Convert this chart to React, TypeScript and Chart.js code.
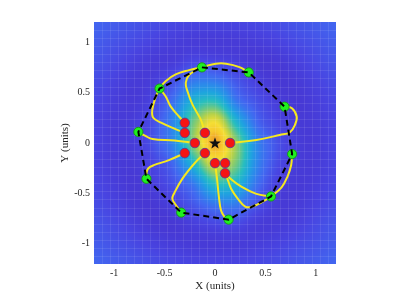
import React, { useEffect, useRef } from 'react';
import { Chart, registerables } from 'chart.js';

Chart.register(...registerables);

// ---- axes ----
const axisMin = -1.2;
const axisMax = 1.2;
const xTicks = [-1, -0.5, 0, 0.5, 1];
const yTicks = [-1, -0.5, 0, 0.5, 1];
const xTitle = 'X (units)';
const yTitle = 'Y (units)';

// ---- background field (0.2 spacing) ----
const fieldX = [-1.2, -1.0, -0.8, -0.6, -0.4, -0.2, 0, 0.2, 0.4, 0.6, 0.8, 1.0, 1.2];
const fieldY = [1.2, 1.0, 0.8, 0.6, 0.4, 0.2, 0, -0.2, -0.4, -0.6, -0.8, -1.0, -1.2];
const fieldValues = [
  [0.10, 0.083, 0.07, 0.055, 0.046, 0.04, 0.04, 0.04, 0.046, 0.055, 0.07, 0.083, 0.10],
  [0.083, 0.065, 0.05, 0.035, 0.026, 0.022, 0.02, 0.02, 0.024, 0.033, 0.05, 0.065, 0.083],
  [0.07, 0.05, 0.03, 0.02, 0.025, 0.05, 0.045, 0.03, 0.015, 0.015, 0.03, 0.05, 0.07],
  [0.055, 0.035, 0.02, 0.028, 0.07, 0.16, 0.16, 0.08, 0.035, 0.015, 0.018, 0.035, 0.055],
  [0.046, 0.026, 0.018, 0.045, 0.14, 0.36, 0.42, 0.16, 0.07, 0.028, 0.015, 0.026, 0.046],
  [0.04, 0.022, 0.025, 0.065, 0.20, 0.55, 0.80, 0.38, 0.12, 0.045, 0.02, 0.022, 0.04],
  [0.04, 0.02, 0.025, 0.07, 0.20, 0.60, 1.0, 0.60, 0.20, 0.07, 0.025, 0.02, 0.04],
  [0.04, 0.022, 0.02, 0.045, 0.12, 0.38, 0.75, 0.55, 0.20, 0.06, 0.025, 0.022, 0.04],
  [0.046, 0.026, 0.015, 0.028, 0.07, 0.16, 0.40, 0.36, 0.14, 0.035, 0.018, 0.026, 0.046],
  [0.055, 0.035, 0.018, 0.015, 0.035, 0.08, 0.15, 0.16, 0.07, 0.022, 0.02, 0.035, 0.055],
  [0.07, 0.05, 0.03, 0.015, 0.015, 0.03, 0.045, 0.05, 0.025, 0.02, 0.03, 0.05, 0.07],
  [0.083, 0.065, 0.05, 0.033, 0.024, 0.02, 0.02, 0.022, 0.026, 0.035, 0.05, 0.065, 0.083],
  [0.10, 0.083, 0.07, 0.055, 0.046, 0.04, 0.04, 0.04, 0.046, 0.055, 0.07, 0.083, 0.10],
];

// ---- start points (red) ----
const redX = [-0.3, -0.3, -0.1, -0.2, 0.15, -0.3, -0.1, 0, 0.1, 0.1];
const redY = [0.2, 0.1, 0.1, 0, 0, -0.1, -0.1, -0.2, -0.2, -0.3];

// ---- end points (green) ----
const greenX = [-0.13, 0.335, -0.55, 0.69, -0.76, 0.765, -0.68, 0.555, -0.335, 0.135];
const greenY = [0.75, 0.70, 0.54, 0.36, 0.11, -0.11, -0.355, -0.53, -0.69, -0.76];
const boundaryOrder = [0, 1, 3, 5, 7, 9, 8, 6, 4, 2, 0];

// ---- centre ----
const centerX = [0];
const centerY = [0];

// ---- trajectories ----
const path1 = [[-0.3, 0.2], [-0.357, 0.263], [-0.44, 0.363], [-0.49, 0.463], [-0.55, 0.54]];
const path2 = [[-0.3, 0.1], [-0.42, 0.15], [-0.53, 0.2], [-0.612, 0.25], [-0.622, 0.33], [-0.59, 0.45], [-0.55, 0.54], [-0.49, 0.613], [-0.39, 0.68], [-0.257, 0.723], [-0.13, 0.753], [0.01, 0.787], [0.11, 0.787], [0.243, 0.753], [0.335, 0.70]];
const path3 = [[-0.1, 0.1], [-0.14, 0.23], [-0.223, 0.38], [-0.273, 0.513], [-0.29, 0.597], [-0.257, 0.675], [-0.19, 0.722], [-0.13, 0.75]];
const path4 = [[-0.2, 0], [-0.4, 0.025], [-0.62, 0.04], [-0.69, 0.07], [-0.76, 0.11]];
const path5 = [[0.15, 0], [0.41, 0.03], [0.643, 0.08], [0.743, 0.107], [0.793, 0.18], [0.81, 0.263], [0.76, 0.347], [0.69, 0.36]];
const path6 = [[-0.3, -0.1], [-0.457, -0.17], [-0.607, -0.22], [-0.663, -0.253], [-0.68, -0.303], [-0.68, -0.355]];
const path7 = [[-0.1, -0.1], [-0.19, -0.187], [-0.323, -0.353], [-0.407, -0.503], [-0.423, -0.553], [-0.397, -0.603], [-0.335, -0.69]];
const path8 = [[0, -0.2], [0.02, -0.353], [0.037, -0.52], [0.06, -0.67], [0.093, -0.73], [0.135, -0.76]];
const path9 = [[0.1, -0.2], [0.108, -0.3], [0.16, -0.36], [0.25, -0.425], [0.41, -0.505], [0.555, -0.53]];
const path10 = [[0.1, -0.3], [0.125, -0.36], [0.16, -0.453], [0.227, -0.553], [0.3, -0.63], [0.365, -0.632], [0.477, -0.58], [0.555, -0.53], [0.66, -0.44], [0.72, -0.33], [0.755, -0.22], [0.765, -0.11]];
const paths = [path1, path2, path3, path4, path5, path6, path7, path8, path9, path10];

// ---- colour map stops ----
const cmapPos = [0, 0.04, 0.1, 0.18, 0.28, 0.4, 0.52, 0.65, 0.8, 0.92, 1.0];
const cmapRGB = [
  [70, 50, 205], [72, 68, 225], [66, 102, 240], [45, 135, 235], [30, 165, 222],
  [40, 190, 190], [110, 200, 130], [185, 210, 72], [245, 222, 52], [246, 200, 46], [238, 160, 42],
];

function colorFor(v: number) {
  const t = Math.max(0, Math.min(1, v));
  for (let i = 1; i < cmapPos.length; i++) {
    if (t <= cmapPos[i]) {
      const f = (t - cmapPos[i - 1]) / (cmapPos[i] - cmapPos[i - 1]);
      const a = cmapRGB[i - 1], b = cmapRGB[i];
      return [a[0] + (b[0] - a[0]) * f, a[1] + (b[1] - a[1]) * f, a[2] + (b[2] - a[2]) * f];
    }
  }
  return cmapRGB[cmapRGB.length - 1];
}

function cubic(p0: number, p1: number, p2: number, p3: number, t: number) {
  return p1 + 0.5 * t * (p2 - p0 + t * (2 * p0 - 5 * p1 + 4 * p2 - p3 + t * (3 * (p1 - p2) + p3 - p0)));
}

function sampleField(gx: number, gy: number) {
  const nx = fieldX.length, ny = fieldY.length;
  const ix = Math.floor(gx), iy = Math.floor(gy);
  const tx = gx - ix, ty = gy - iy;
  const get = (i: number, j: number) =>
    fieldValues[Math.max(0, Math.min(ny - 1, j))][Math.max(0, Math.min(nx - 1, i))];
  const r: number[] = [];
  for (let m = -1; m <= 2; m++) {
    r.push(cubic(get(ix - 1, iy + m), get(ix, iy + m), get(ix + 1, iy + m), get(ix + 2, iy + m), tx));
  }
  return cubic(r[0], r[1], r[2], r[3], ty);
}

const heatmapPlugin = {
  id: 'heatmapBackground',
  beforeDatasetsDraw(chart: any) {
    const { ctx, chartArea: ca, scales } = chart;
    const xs = scales.x, ys = scales.y;
    const w = Math.round(ca.right - ca.left);
    const h = Math.round(ca.bottom - ca.top);
    const off = document.createElement('canvas');
    off.width = w;
    off.height = h;
    const octx = off.getContext('2d')!;
    const img = octx.createImageData(w, h);
    const stepX = fieldX[1] - fieldX[0];
    const stepY = fieldY[0] - fieldY[1];
    for (let py = 0; py < h; py++) {
      const yv = ys.getValueForPixel(ca.top + py + 0.5);
      const gy = (fieldY[0] - yv) / stepY;
      for (let px = 0; px < w; px++) {
        const xv = xs.getValueForPixel(ca.left + px + 0.5);
        const gx = (xv - fieldX[0]) / stepX;
        const c = colorFor(sampleField(gx, gy));
        const k = (py * w + px) * 4;
        img.data[k] = c[0];
        img.data[k + 1] = c[1];
        img.data[k + 2] = c[2];
        img.data[k + 3] = 255;
      }
    }
    octx.putImageData(img, 0, 0);
    ctx.save();
    ctx.drawImage(off, ca.left, ca.top);
    // faint mesh lines
    ctx.strokeStyle = 'rgba(255,255,255,0.09)';
    ctx.lineWidth = 1;
    ctx.beginPath();
    for (let k = 1; k < 30; k++) {
      const v = axisMin + k * 0.08;
      const px = Math.round(xs.getPixelForValue(v)) + 0.5;
      const py = Math.round(ys.getPixelForValue(v)) + 0.5;
      ctx.moveTo(px, ca.top);
      ctx.lineTo(px, ca.bottom);
      ctx.moveTo(ca.left, py);
      ctx.lineTo(ca.right, py);
    }
    ctx.stroke();
    ctx.restore();
  },
};

function makeStar() {
  const c = document.createElement('canvas');
  c.width = 14;
  c.height = 14;
  const g = c.getContext('2d')!;
  g.beginPath();
  for (let i = 0; i < 10; i++) {
    const r = i % 2 === 0 ? 6.2 : 2.5;
    const a = -Math.PI / 2 + (i * Math.PI) / 5;
    const x = 7 + r * Math.cos(a);
    const y = 7.4 + r * Math.sin(a);
    if (i === 0) g.moveTo(x, y);
    else g.lineTo(x, y);
  }
  g.closePath();
  g.fillStyle = '#111';
  g.fill();
  return c;
}

export default function App() {
  const ref = useRef<HTMLCanvasElement>(null);

  useEffect(() => {
    if (!ref.current) return;
    const font = "'Liberation Serif', 'Times New Roman', serif";
    const datasets: any[] = [];
    datasets.push({
      label: 'center',
      data: centerX.map((x, i) => ({ x, y: centerY[i] })),
      pointStyle: makeStar(),
      pointRadius: 7,
      showLine: false,
    });
    datasets.push({
      label: 'start',
      data: redX.map((x, i) => ({ x, y: redY[i] })),
      pointRadius: 4.8,
      pointBackgroundColor: '#f51414',
      pointBorderColor: 'rgba(70,60,160,0.75)',
      pointBorderWidth: 1,
      showLine: false,
    });
    datasets.push({
      label: 'boundary',
      data: boundaryOrder.map((i) => ({ x: greenX[i], y: greenY[i] })),
      showLine: true,
      borderColor: '#000',
      borderWidth: 2,
      borderDash: [6, 4],
      pointRadius: 0,
      tension: 0,
    });
    datasets.push({
      label: 'end',
      data: greenX.map((x, i) => ({ x, y: greenY[i] })),
      pointRadius: 4.6,
      pointBackgroundColor: '#1ff01f',
      pointBorderColor: 'rgba(20,150,20,0.9)',
      pointBorderWidth: 1,
      showLine: false,
    });
    paths.forEach((p, idx) => {
      datasets.push({
        label: 'path' + (idx + 1),
        data: p.map(([x, y]) => ({ x, y })),
        showLine: true,
        borderColor: 'rgb(246,232,30)',
        borderWidth: 2,
        pointRadius: 0,
        tension: 0.4,
      });
    });

    const tickFont = { family: font, size: 10 };
    const titleFont = { family: font, size: 11 };
    const fmt = (v: any) => String(v);

    const chart = new Chart(ref.current, {
      type: 'scatter',
      data: { datasets },
      options: {
        animation: false,
        responsive: false,
        events: [],
        layout: { padding: { left: 54, top: 22, right: 79, bottom: 0 } },
        plugins: { legend: { display: false }, tooltip: { enabled: false } },
        scales: {
          x: {
            type: 'linear',
            min: axisMin,
            max: axisMax,
            afterBuildTicks: (s: any) => {
              s.ticks = xTicks.map((v) => ({ value: v }));
            },
            afterFit: (s: any) => {
              s.height = 32;
            },
            grid: { display: false, drawTicks: false },
            border: { display: false },
            ticks: { font: tickFont, color: '#262626', padding: 3, maxRotation: 0, callback: fmt },
            title: { display: true, text: xTitle, font: titleFont, color: '#262626', padding: { top: 0, bottom: 3 } },
          },
          y: {
            type: 'linear',
            min: axisMin,
            max: axisMax,
            afterBuildTicks: (s: any) => {
              s.ticks = yTicks.map((v) => ({ value: v }));
            },
            afterFit: (s: any) => {
              s.width = 40;
            },
            grid: { display: false, drawTicks: false },
            border: { display: false },
            ticks: { font: tickFont, color: '#262626', padding: 4, callback: fmt },
            title: { display: true, text: yTitle, font: titleFont, color: '#262626', padding: { top: 5, bottom: 0 } },
          },
        },
      },
      plugins: [heatmapPlugin],
    });
    return () => chart.destroy();
  }, []);

  return (
    <div style={{ position: 'fixed', left: 0, top: 0, width: 415, height: 296, background: '#fff' }}>
      <canvas ref={ref} width={415} height={296} style={{ display: 'block' }} />
    </div>
  );
}
